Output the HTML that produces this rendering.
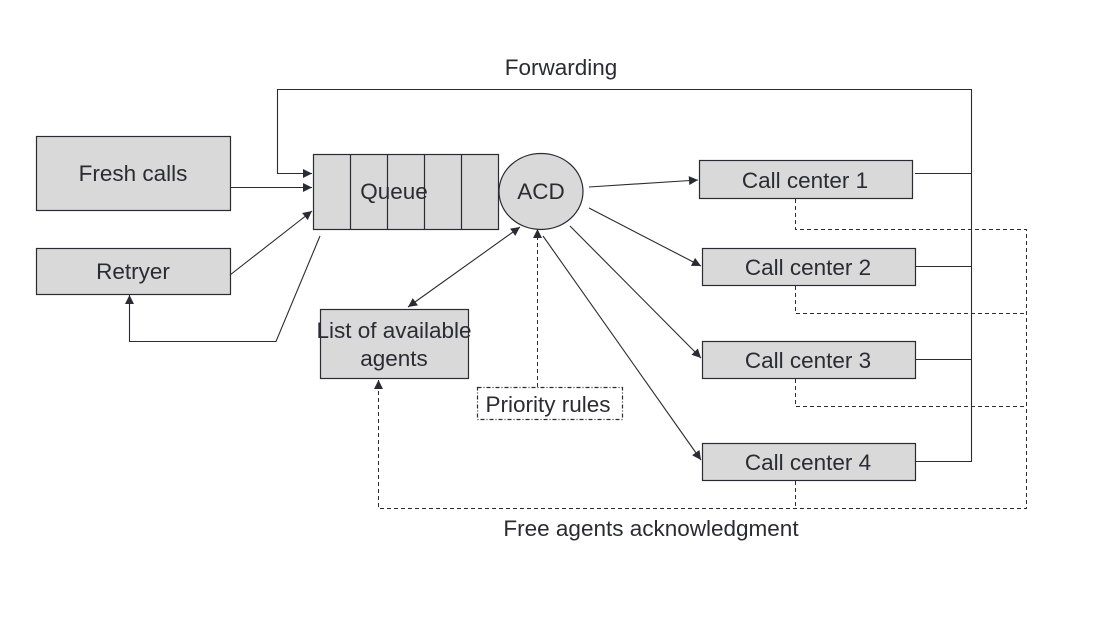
<!DOCTYPE html>
<html><head><meta charset="utf-8"><style>
html,body{margin:0;padding:0;background:#fff;}
svg{display:block;}
text{font-family:"Liberation Sans",Arial,sans-serif;fill:#2b2b33;}
</style></head><body>
<svg width="1094" height="630" viewBox="0 0 1094 630" xmlns="http://www.w3.org/2000/svg">
<defs>
<marker id="a" viewBox="0 0 10 10" refX="10" refY="5" markerWidth="11" markerHeight="9" orient="auto-start-reverse" markerUnits="userSpaceOnUse"><path d="M0,0 L10,5 L0,10 z" fill="#2b2b33"/></marker>
</defs>
<g stroke="#2b2b33" stroke-width="1.2" fill="#d9d9d9">
<rect x="36.5" y="136.5" width="194" height="74"/>
<rect x="36.5" y="248.5" width="194" height="46"/>
<rect x="313.5" y="154.5" width="185" height="75"/>
<line x1="350.5" y1="154.5" x2="350.5" y2="229.5"/>
<line x1="387.5" y1="154.5" x2="387.5" y2="229.5"/>
<line x1="424.5" y1="154.5" x2="424.5" y2="229.5"/>
<line x1="461.5" y1="154.5" x2="461.5" y2="229.5"/>
<ellipse cx="541" cy="191.5" rx="42" ry="38"/>
<rect x="320.5" y="309.5" width="148" height="69"/>
<rect x="699.5" y="160.5" width="213" height="38"/>
<rect x="702.5" y="248.5" width="213" height="37"/>
<rect x="702.5" y="341.5" width="213" height="37"/>
<rect x="702.5" y="443.5" width="213" height="37"/>
<rect x="477.5" y="387.5" width="145" height="32" fill="#fff" stroke-dasharray="4,2,1,2"/>
</g>
<g stroke="#2b2b33" stroke-width="1.1" fill="none">
<polyline points="915,173.5 971.5,173.5"/>
<polyline points="915,266.5 971.5,266.5"/>
<polyline points="915,359.5 971.5,359.5"/>
<polyline points="915,461.5 971.5,461.5 971.5,89.5 277.5,89.5 277.5,173.5 312,173.5" marker-end="url(#a)"/>
<line x1="230" y1="187.5" x2="312" y2="187.5" marker-end="url(#a)"/>
<line x1="230" y1="275" x2="312" y2="211" marker-end="url(#a)"/>
<polyline points="320,236 276,341.5 129.5,341.5 129.5,295" marker-end="url(#a)"/>
<line x1="589" y1="187" x2="698" y2="180" marker-end="url(#a)"/>
<line x1="589" y1="208" x2="701" y2="266" marker-end="url(#a)"/>
<line x1="570" y1="226" x2="701" y2="358" marker-end="url(#a)"/>
<line x1="543" y1="236" x2="701" y2="460" marker-end="url(#a)"/>
<line x1="408" y1="307" x2="520" y2="227" marker-start="url(#a)" marker-end="url(#a)"/>
</g>
<g stroke="#2b2b33" stroke-width="1" fill="none" stroke-dasharray="4,3">
<line x1="537.5" y1="387" x2="537.5" y2="229" marker-end="url(#a)"/>
<polyline points="795.5,199 795.5,229.5 1026.5,229.5 1026.5,508.5 378.5,508.5 378.5,380" marker-end="url(#a)"/>
<polyline points="795.5,286 795.5,313.5 1026.5,313.5"/>
<polyline points="795.5,379 795.5,406.5 1026.5,406.5"/>
<polyline points="795.5,481 795.5,508.5"/>
</g>
<g font-size="22.5" text-anchor="middle">
<text x="133" y="181">Fresh calls</text>
<text x="133" y="279">Retryer</text>
<text x="394" y="199">Queue</text>
<text x="541" y="199">ACD</text>
<text x="394" y="338">List of available</text>
<text x="394" y="366">agents</text>
<text x="548" y="412">Priority rules</text>
<text x="805" y="188">Call center 1</text>
<text x="808" y="275">Call center 2</text>
<text x="808" y="368">Call center 3</text>
<text x="808" y="470">Call center 4</text>
<text x="561" y="75">Forwarding</text>
<text x="651" y="536">Free agents acknowledgment</text>
</g>
</svg>
</body></html>
